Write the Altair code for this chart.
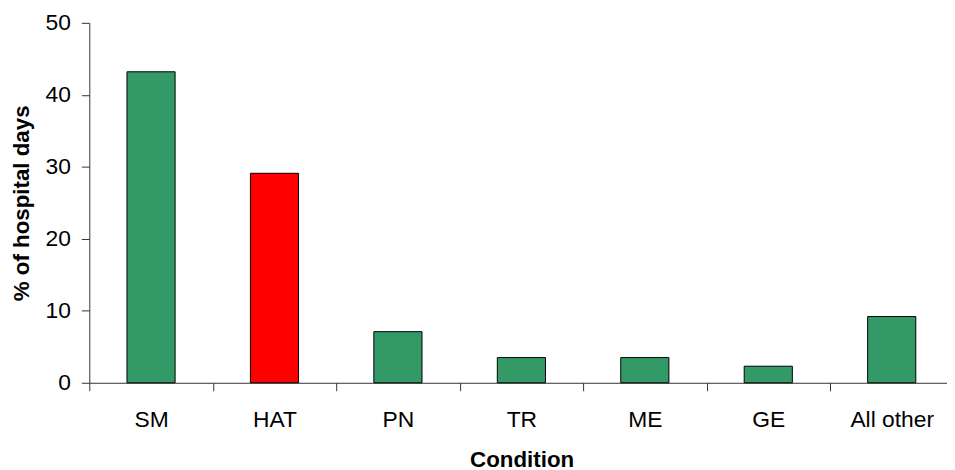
import altair as alt
import pandas as pd

categories = ["SM", "HAT", "PN", "TR", "ME", "GE", "All other"]
values = [43.2, 29.1, 7.1, 3.5, 3.5, 2.3, 9.2]
bar_colors = ["#339966", "#FF0000", "#339966", "#339966", "#339966", "#339966", "#339966"]
y_ticks = [0, 10, 20, 30, 40, 50]

df = pd.DataFrame({"Condition": categories, "value": values, "color": bar_colors})

FONT = "Liberation Sans"

chart = alt.Chart(df).mark_bar(
    width=alt.RelativeBandSize(0.39), stroke="#000000", strokeWidth=1
).encode(
    x=alt.X(
        "Condition:N",
        sort=categories,
        scale=alt.Scale(paddingInner=0, paddingOuter=0, range=[0, 871.5]),
        axis=alt.Axis(
            title="Condition",
            labelAngle=0,
            tickBand="extent",
            tickSize=8,
            labelPadding=18,
            labelFontSize=23,
            labelFont=FONT,
            labelColor="#000000",
            titleFont=FONT,
            titleFontSize=22.5,
            titleFontWeight="bold",
            titleColor="#000000",
            titleBaseline="alphabetic",
            titleX=436,
            titleY=84,
            domainColor="#333333",
            tickColor="#333333",
        ),
    ),
    y=alt.Y(
        "value:Q",
        scale=alt.Scale(domain=[0, 50], nice=False),
        axis=alt.Axis(
            title="% of hospital days",
            values=y_ticks,
            grid=False,
            tickSize=8,
            labelPadding=11,
            labelFontSize=23,
            labelFont=FONT,
            labelColor="#000000",
            titleFont=FONT,
            titleFontSize=22.5,
            titleFontWeight="bold",
            titleColor="#000000",
            titleBaseline="alphabetic",
            titleX=-61,
            domainColor="#333333",
            tickColor="#333333",
        ),
    ),
    color=alt.Color("color:N", scale=None, legend=None),
).properties(
    width=865,
    height=363,
    autosize=alt.AutoSizeParams(type="none"),
    padding={"left": 82, "top": 13, "right": 0, "bottom": 86},
).configure_view(stroke=None)

chart.save("out.html", embed_options={"renderer": "svg", "actions": False})
